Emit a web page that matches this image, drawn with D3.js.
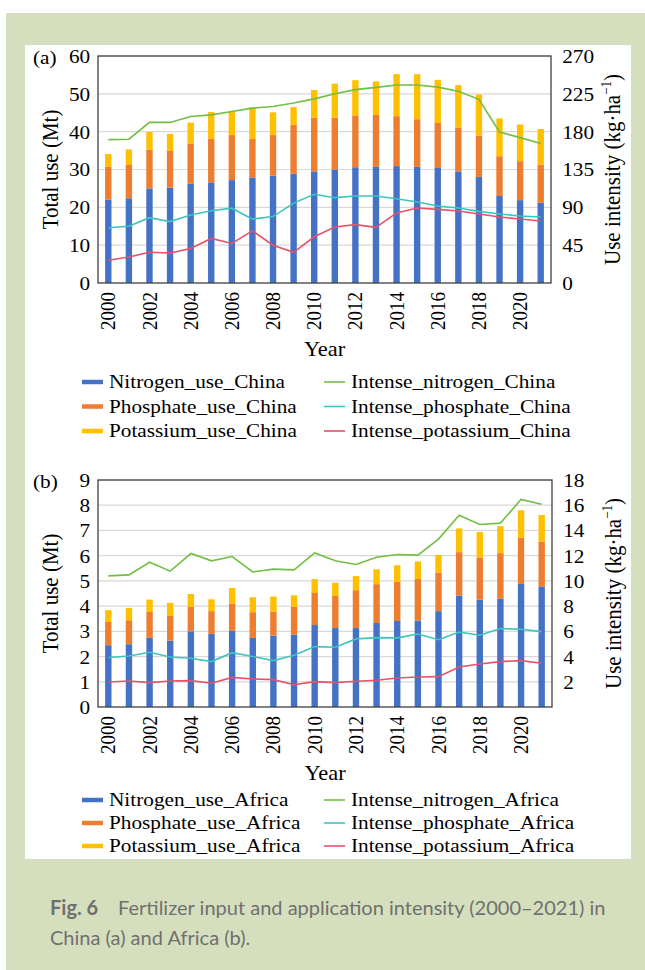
<!DOCTYPE html>
<html>
<head>
<meta charset="utf-8">
<script src="https://cdn.jsdelivr.net/npm/d3@7"></script>
<style>
    html, body { margin: 0; padding: 0; background: #fff; }
    svg text { font-family: "Liberation Serif", "Times New Roman", serif; fill: #000; }
    .caption { font-family: Lato, "Open Sans", sans-serif; fill: #707070; }
</style>
</head>
<body>
<div id="fig"></div>
<script>
'use strict';

// categories
const years = [2000, 2001, 2002, 2003, 2004, 2005, 2006, 2007, 2008, 2009, 2010,
               2011, 2012, 2013, 2014, 2015, 2016, 2017, 2018, 2019, 2020, 2021];
const tickYears = [2000, 2002, 2004, 2006, 2008, 2010, 2012, 2014, 2016, 2018, 2020];

// China - total use (Mt), stacked
const nitrogenUseChina  = [22.0, 22.4, 25.0, 25.2, 26.2, 26.6, 27.2, 27.9, 28.4, 28.9, 29.5,
                           30.0, 30.6, 30.7, 30.9, 30.7, 30.4, 29.5, 28.0, 23.0, 21.9, 21.2];
const phosphateUseChina = [8.7, 8.8, 10.2, 9.7, 10.7, 11.5, 11.9, 10.2, 10.7, 12.9, 14.2,
                           13.7, 13.7, 13.7, 13.2, 12.6, 11.9, 11.6, 11.0, 10.5, 10.3, 10.1];
const potassiumUseChina = [3.4, 4.1, 4.7, 4.5, 5.5, 7.1, 6.4, 8.3, 6.0, 4.7, 7.3,
                           9.0, 9.3, 8.9, 11.1, 11.9, 11.4, 11.2, 10.8, 10.0, 9.7, 9.4];
// China - use intensity (kg/ha)
const intenseNitrogenChina  = [170.5, 171, 191, 191, 198, 200, 204, 208, 210, 214, 219,
                               225, 230, 232.7, 235.5, 235.5, 233, 228, 218.5, 179.6, 172.9, 166];
const intensePhosphateChina = [65.8, 67.4, 77.7, 73, 81, 86, 89, 76, 79, 95, 105.5,
                               101.5, 103.5, 103.5, 100.3, 96.3, 91.6, 89.2, 85.2, 82, 79.7, 78.5];
const intensePotassiumChina = [27, 31, 36.5, 35.7, 41, 53, 47, 62, 45, 36.5, 55,
                               66.6, 69.4, 66.2, 83.3, 89.2, 87.6, 85.6, 82, 78.5, 76.1, 73.7];

// Africa - total use (Mt), stacked
const nitrogenUseAfrica  = [2.45, 2.49, 2.74, 2.63, 3.00, 2.90, 3.02, 2.74, 2.83, 2.87, 3.25,
                            3.13, 3.13, 3.33, 3.41, 3.43, 3.80, 4.42, 4.25, 4.29, 4.88, 4.78];
const phosphateUseAfrica = [0.92, 0.95, 1.03, 0.98, 0.97, 0.90, 1.08, 1.02, 0.95, 1.10, 1.27,
                            1.27, 1.50, 1.54, 1.55, 1.65, 1.53, 1.72, 1.68, 1.81, 1.83, 1.78];
const potassiumUseAfrica = [0.47, 0.49, 0.49, 0.52, 0.51, 0.47, 0.62, 0.59, 0.60, 0.46, 0.55,
                            0.53, 0.56, 0.59, 0.66, 0.69, 0.70, 0.94, 1.01, 1.07, 1.09, 1.05];
// Africa - use intensity (kg/ha)
const intenseNitrogenAfrica  = [10.4, 10.48, 11.48, 10.77, 12.17, 11.59, 11.93, 10.71, 10.93, 10.87, 12.22,
                                11.59, 11.30, 11.88, 12.09, 12.04, 13.31, 15.21, 14.47, 14.58, 16.46, 16.08];
const intensePhosphateAfrica = [3.92, 4.05, 4.34, 3.97, 3.86, 3.60, 4.31, 4.00, 3.68, 4.10, 4.79,
                                4.74, 5.40, 5.50, 5.48, 5.79, 5.34, 5.95, 5.69, 6.22, 6.16, 5.98];
const intensePotassiumAfrica = [1.98, 2.06, 1.93, 2.06, 2.09, 1.88, 2.35, 2.22, 2.17, 1.77, 2.01,
                                1.93, 2.04, 2.12, 2.30, 2.38, 2.41, 3.17, 3.41, 3.60, 3.68, 3.47];

// axis ticks
const leftTicksChina = [0, 10, 20, 30, 40, 50, 60];
const rightTicksChina = [0, 45, 90, 135, 180, 225, 270];
const leftTicksAfrica = [0, 1, 2, 3, 4, 5, 6, 7, 8, 9];
const rightTicksAfrica = [2, 4, 6, 8, 10, 12, 14, 16, 18];

const barColors = ['#4472c4', '#ed7d31', '#ffc000'];
const lineColors = ['#72bf44', '#3cc5bd', '#e9506a'];

const SX = 1.12;     // the reference figure is slightly stretched horizontally
const FONT = 19;

const svg = d3.select('#fig').append('svg')
    .attr('width', 645)
    .attr('height', 970);

// page background: green card with white figure panel
svg.append('rect').attr('x', 6).attr('y', 13).attr('width', 639).attr('height', 957).attr('fill', '#d6dfbd');
svg.append('rect').attr('x', 25).attr('y', 45).attr('width', 606).attr('height', 814).attr('fill', '#fff');

// stretched text helper
function label(parent, x, y, txt, size, anchor, rotate=false) {
    return parent.append('text')
        .attr('transform', `translate(${x},${y}) scale(${SX},1)` + (rotate ? ' rotate(-90)' : ''))
        .attr('text-anchor', anchor)
        .style('font-size', size + 'px')
        .text(txt);
}

function drawPanel(cfg) {
    const { left, top, width, height } = cfg;
    const g = svg.append('g').attr('transform', `translate(${left},${top})`);

    const x = d3.scaleBand(years, [0, width]).paddingInner(0.69).paddingOuter(0.345);
    const yL = d3.scaleLinear([0, cfg.leftMax], [height, 0]);
    const yR = d3.scaleLinear([0, cfg.rightMax], [height, 0]);

    // gridlines
    g.append('g').selectAll('line')
        .data(cfg.leftTicks.filter(d => d > 0))
        .join('line')
        .attr('x1', 0).attr('x2', width)
        .attr('y1', d => yL(d)).attr('y2', d => yL(d))
        .attr('stroke', '#d9d9d9').attr('stroke-width', 1.2);

    // stacked bars
    const table = years.map((yr, i) => ({ year: yr, n: cfg.bars[0][i], p: cfg.bars[1][i], k: cfg.bars[2][i] }));
    const series = d3.stack().keys(['n', 'p', 'k'])(table);
    g.append('g').selectAll('g')
        .data(series)
        .join('g')
        .attr('fill', (d, i) => barColors[i])
        .selectAll('rect')
        .data(d => d)
        .join('rect')
        .attr('x', d => x(d.data.year))
        .attr('width', x.bandwidth())
        .attr('y', d => yL(d[1]))
        .attr('height', d => yL(d[0]) - yL(d[1]));

    // intensity lines on the right axis
    const line = d3.line()
        .x((d, i) => x(years[i]) + x.bandwidth() / 2)
        .y(d => yR(d));
    cfg.lines.forEach((arr, i) => {
        g.append('path').datum(arr)
            .attr('d', line)
            .attr('fill', 'none')
            .attr('stroke', lineColors[i])
            .attr('stroke-width', 1.6);
    });

    // plot border
    g.append('rect')
        .attr('width', width).attr('height', height)
        .attr('fill', 'none').attr('stroke', '#404040').attr('stroke-width', 1.3);

    // axes
    const axL = g.append('g').call(d3.axisLeft(yL).tickValues(cfg.leftTicks).tickSize(0).tickPadding(7));
    const axR = g.append('g').attr('transform', `translate(${width},0)`)
        .call(d3.axisRight(yR).tickValues(cfg.rightTicks).tickSize(0).tickPadding(10));
    const axB = g.append('g').attr('transform', `translate(0,${height})`)
        .call(d3.axisBottom(x).tickValues(tickYears).tickSize(0));

    [axL, axR, axB].forEach(ax => {
        ax.attr('font-size', null).attr('font-family', null);
        ax.select('.domain').remove();
        ax.selectAll('text').style('font-size', FONT + 'px');
    });
    axL.selectAll('text').attr('transform', `scale(${SX},1)`).attr('dy', '0.34em');
    axR.selectAll('text').attr('transform', `scale(${SX},1)`).attr('dy', '0.34em');
    axB.selectAll('text')
        .attr('transform', `scale(${SX},1) rotate(-90)`)
        .attr('x', -9).attr('y', 0).attr('dy', '0.33em')
        .style('text-anchor', 'end');

    // axis titles
    label(g, width / 2, height + 73, 'Year', 20, 'middle');
    label(g, -40, height / 2, 'Total use (Mt)', 21, 'middle', true);
    const rt = label(g, width + 69, height / 2, 'Use intensity (kg·ha', 21, 'middle', true);
    rt.append('tspan').attr('dy', -8).style('font-size', '13px').text('−1');
    rt.append('tspan').attr('dy', 8).text(')');

    // panel tag
    label(svg, 33, top + 8, cfg.tag, FONT, 'start');

    // legend
    const lg = svg.append('g');
    cfg.legend.forEach((name, i) => {
        const col = i < 3 ? 0 : 1,
              row = i % 3;
        const sx = col === 0 ? 82 : 324,
              cy = cfg.legendTop + row * cfg.legendStep;
        lg.append('line')
            .attr('x1', sx).attr('x2', sx + 21)
            .attr('y1', cy).attr('y2', cy)
            .attr('stroke', col === 0 ? barColors[row] : lineColors[row])
            .attr('stroke-width', col === 0 ? 4.5 : 1.6);
        label(lg, sx + 27, cy + 6, name, FONT, 'start');
    });
}

drawPanel({
    left: 98, top: 56, width: 453, height: 227,
    leftMax: 60, rightMax: 270,
    leftTicks: leftTicksChina, rightTicks: rightTicksChina,
    bars: [nitrogenUseChina, phosphateUseChina, potassiumUseChina],
    lines: [intenseNitrogenChina, intensePhosphateChina, intensePotassiumChina],
    tag: '(a)',
    legendTop: 382, legendStep: 24.5,
    legend: ['Nitrogen_use_China', 'Phosphate_use_China', 'Potassium_use_China',
             'Intense_nitrogen_China', 'Intense_phosphate_China', 'Intense_potassium_China']
});

drawPanel({
    left: 98, top: 480, width: 454, height: 227,
    leftMax: 9, rightMax: 18,
    leftTicks: leftTicksAfrica, rightTicks: rightTicksAfrica,
    bars: [nitrogenUseAfrica, phosphateUseAfrica, potassiumUseAfrica],
    lines: [intenseNitrogenAfrica, intensePhosphateAfrica, intensePotassiumAfrica],
    tag: '(b)',
    legendTop: 800, legendStep: 23,
    legend: ['Nitrogen_use_Africa', 'Phosphate_use_Africa', 'Potassium_use_Africa',
             'Intense_nitrogen_Africa', 'Intense_phosphate_Africa', 'Intense_potassium_Africa']
});

// caption, sized so the first line spans the same width as the reference
const cap1 = svg.append('text').attr('class', 'caption').attr('x', 50).attr('y', 915).style('font-size', '16px');
cap1.append('tspan').style('font-weight', 'bold').text('Fig. 6');
const capRest = cap1.append('tspan').attr('x', 118).text('Fertilizer input and application intensity (2000–2021) in');
const cap2 = svg.append('text').attr('class', 'caption').attr('x', 50).attr('y', 945).style('font-size', '16px')
    .text('China (a) and Africa (b).');
const fitSize = 16 * 488 / capRest.node().getComputedTextLength();
cap1.style('font-size', fitSize + 'px');
cap2.style('font-size', fitSize + 'px');
</script>
</body>
</html>
